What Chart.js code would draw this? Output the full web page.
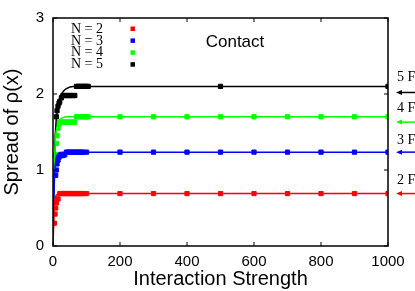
<!DOCTYPE html>
<html><head><meta charset="utf-8">
<script src="https://cdn.jsdelivr.net/npm/chart.js@4/dist/chart.umd.min.js"></script>
<style>html,body{margin:0;padding:0;background:#fff}#wrap{width:415px;height:291px}canvas{display:block}</style>
</head><body>
<div id="wrap"><canvas id="c" width="415" height="291"></canvas></div>
<script>
// ---- data ----
const seriesLabels = ['N = 2', 'N = 3', 'N = 4', 'N = 5'];
const seriesColors = ['#ff0000', '#0000ff', '#00ff00', '#000000'];
const xTicks = [0, 200, 400, 600, 800, 1000];
const yTicks = [0, 1, 2, 3];

const curveX = [0, 2, 4, 6, 8, 10, 15, 20, 30, 40, 60, 100, 1000];
const curveN2 = [0, 0.30, 0.50, 0.60, 0.65, 0.67, 0.685, 0.69, 0.69, 0.69, 0.69, 0.69, 0.69];
const curveN3 = [0, 0.50, 0.85, 1.02, 1.12, 1.17, 1.21, 1.23, 1.235, 1.235, 1.235, 1.235, 1.235];
const curveN4 = [0, 0.50, 1.00, 1.30, 1.45, 1.52, 1.60, 1.66, 1.69, 1.70, 1.70, 1.70, 1.70];
const curveN5 = [0, 0.55, 1.05, 1.35, 1.55, 1.68, 1.83, 1.95, 2.03, 2.07, 2.10, 2.10, 2.10];

const markX_N2 = [4, 6, 8, 10, 15, 20, 25, 30, 35, 40, 45, 50, 55, 60, 65, 70, 75, 80, 85, 90, 100, 200, 300, 400, 500, 600, 700, 800, 900, 1000];
const markY_N2 = [0.30, 0.42, 0.50, 0.57, 0.62, 0.69, 0.69, 0.69, 0.69, 0.69, 0.69, 0.69, 0.69, 0.69, 0.69, 0.69, 0.69, 0.69, 0.69, 0.69, 0.69, 0.69, 0.69, 0.69, 0.69, 0.69, 0.69, 0.69, 0.69, 0.69];
const markX_N3 = [8, 10, 12, 15, 18, 20, 25, 30, 35, 40, 45, 50, 55, 60, 65, 70, 75, 80, 85, 90, 100, 200, 300, 400, 500, 600, 700, 800, 900, 1000];
const markY_N3 = [0.93, 1.00, 1.08, 1.13, 1.17, 1.19, 1.19, 1.19, 1.20, 1.235, 1.235, 1.235, 1.235, 1.235, 1.235, 1.235, 1.235, 1.235, 1.235, 1.235, 1.235, 1.235, 1.235, 1.235, 1.235, 1.235, 1.235, 1.235, 1.235, 1.235];
const markX_N4 = [8, 10, 12, 15, 18, 20, 25, 30, 35, 40, 45, 50, 55, 60, 65, 70, 75, 80, 85, 90, 95, 100, 105, 200, 300, 400, 500, 600, 700, 800, 900, 1000];
const markY_N4 = [1.20, 1.35, 1.45, 1.55, 1.60, 1.63, 1.63, 1.63, 1.63, 1.63, 1.63, 1.63, 1.63, 1.63, 1.63, 1.70, 1.70, 1.70, 1.70, 1.70, 1.70, 1.70, 1.70, 1.70, 1.70, 1.70, 1.70, 1.70, 1.70, 1.70, 1.70, 1.70];
const markX_N5 = [10, 12, 15, 18, 20, 25, 30, 35, 40, 45, 50, 55, 60, 65, 70, 75, 80, 85, 90, 95, 100, 105, 500, 1000];
const markY_N5 = [1.70, 1.78, 1.84, 1.88, 1.90, 1.95, 1.98, 1.98, 1.98, 1.98, 1.98, 1.98, 1.98, 1.98, 2.10, 2.10, 2.10, 2.10, 2.10, 2.10, 2.10, 2.10, 2.10, 2.10];

const sideLabels = ['5 F', '4 F', '3 F', '2 F'];
const sideColors = ['#000000', '#00ff00', '#0000ff', '#ff0000'];
const sideLabelY = [2.22, 1.81, 1.39, 0.865];
const sideArrowY = [2.02, 1.63, 1.235, 0.69];
const noteText = 'Contact';

// ---- build datasets ----
const curves = [curveN2, curveN3, curveN4, curveN5];
const marksX = [markX_N2, markX_N3, markX_N4, markX_N5];
const marksY = [markY_N2, markY_N3, markY_N4, markY_N5];
const datasets = [];
for (let i = 0; i < 4; i++) {
  datasets.push({
    label: seriesLabels[i] + ' pts',
    data: marksX[i].map((x, k) => ({x, y: marksY[i][k]})),
    showLine: false,
    pointStyle: 'rect',
    pointRadius: 3,
    pointBorderWidth: 1,
    pointBackgroundColor: seriesColors[i],
    pointBorderColor: seriesColors[i],
    order: 2
  });
  datasets.push({
    label: seriesLabels[i],
    data: curveX.map((x, k) => ({x, y: curves[i][k]})),
    showLine: true,
    borderColor: seriesColors[i],
    borderWidth: 1.5,
    pointRadius: 0,
    cubicInterpolationMode: 'monotone',
    order: 1
  });
}

function seg(ctx, x1, y1, x2, y2) { ctx.beginPath(); ctx.moveTo(x1, y1); ctx.lineTo(x2, y2); ctx.stroke(); }

const decor = {
  id: 'decor',
  afterDraw(chart) {
    const {ctx, chartArea: a, scales: {x, y}} = chart;
    ctx.save();
    ctx.strokeStyle = '#000';
    ctx.lineWidth = 1.5;
    ctx.strokeRect(a.left, a.top, a.right - a.left, a.bottom - a.top);
    ctx.lineWidth = 1;
    xTicks.forEach(v => { const p = x.getPixelForValue(v); seg(ctx, p, a.bottom, p, a.bottom - 4); seg(ctx, p, a.top, p, a.top + 4); });
    yTicks.forEach(v => { const p = y.getPixelForValue(v); seg(ctx, a.left, p, a.left + 4, p); seg(ctx, a.right, p, a.right - 4, p); });
    // legend
    ctx.font = '14px "Liberation Serif", "Times New Roman", serif';
    ctx.textBaseline = 'middle';
    ctx.textAlign = 'left';
    seriesLabels.forEach((t, i) => {
      const ty = a.top + 11 + i * 11.9;
      ctx.fillStyle = '#000';
      ctx.fillText(t, a.left + 18, ty);
      ctx.fillStyle = seriesColors[i];
      ctx.fillRect(a.left + 77.5, ty - 2.5, 4.5, 4.5);
    });
    // note
    ctx.fillStyle = '#000';
    ctx.font = '17px "Liberation Sans", Arial, sans-serif';
    ctx.textAlign = 'center';
    ctx.fillText(noteText, 235, a.top + 24);
    // side labels and arrows
    ctx.font = '14px "Liberation Serif", "Times New Roman", serif';
    ctx.textAlign = 'left';
    sideLabels.forEach((t, i) => {
      ctx.fillStyle = '#000';
      ctx.fillText(t, a.right + 9, y.getPixelForValue(sideLabelY[i]));
      const py = y.getPixelForValue(sideArrowY[i]);
      const tip = a.right + 8;
      ctx.strokeStyle = sideColors[i];
      ctx.fillStyle = sideColors[i];
      ctx.lineWidth = 1.5;
      seg(ctx, tip + 3, py, chart.width + 2, py);
      ctx.beginPath(); ctx.moveTo(tip, py); ctx.lineTo(tip + 6, py - 2.5); ctx.lineTo(tip + 6, py + 2.5); ctx.closePath(); ctx.fill();
    });
    ctx.restore();
  }
};

new Chart(document.getElementById('c'), {
  type: 'scatter',
  data: {datasets},
  options: {
    responsive: false,
    animation: false,
    devicePixelRatio: 1,
    layout: {padding: {left: 0, right: 27, top: 17, bottom: 0}},
    plugins: {legend: {display: false}, tooltip: {enabled: false}},
    scales: {
      x: {
        type: 'linear', min: 0, max: 1000,
        afterBuildTicks: s => { s.ticks = xTicks.map(v => ({value: v})); },
        afterFit: s => { s.height = 45; },
        grid: {display: false, drawTicks: false},
        border: {display: false},
        ticks: {color: '#000', padding: 7, maxRotation: 0, callback: v => String(v), font: {family: '"Liberation Sans", Arial, sans-serif', size: 15}},
        title: {display: true, text: 'Interaction Strength', color: '#000', padding: {top: 0, bottom: 0}, font: {family: '"Liberation Sans", Arial, sans-serif', size: 20}}
      },
      y: {
        type: 'linear', min: 0, max: 3,
        afterBuildTicks: s => { s.ticks = yTicks.map(v => ({value: v})); },
        afterFit: s => { s.width = 53; },
        grid: {display: false, drawTicks: false},
        border: {display: false},
        ticks: {color: '#000', padding: 9, callback: v => String(v), font: {family: '"Liberation Sans", Arial, sans-serif', size: 15}},
        title: {display: true, text: 'Spread of ρ(x)', color: '#000', padding: {top: 0, bottom: 0}, font: {family: '"Liberation Sans", Arial, sans-serif', size: 20}}
      }
    }
  },
  plugins: [decor]
});
</script>
</body></html>
